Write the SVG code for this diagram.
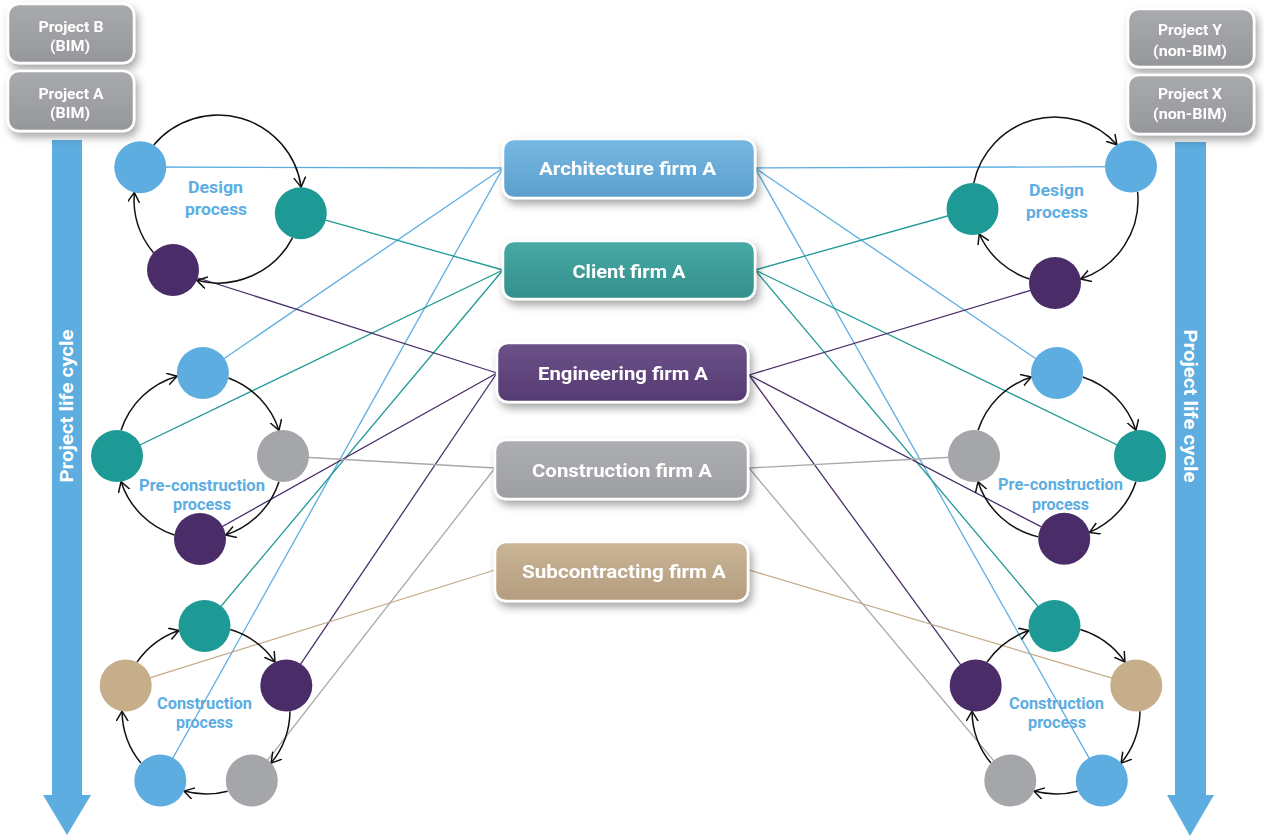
<svg xmlns="http://www.w3.org/2000/svg" width="1264" height="837" viewBox="0 0 1264 837">
<style>
text{font-family:Roboto,"Liberation Sans",sans-serif;font-weight:700;text-anchor:middle}
.bx{fill:#fff;font-size:19px}
.pj{fill:#fff;font-size:14px}
.pl{fill:#5dade2;font-size:16px}
.lc{fill:#fff;font-size:18px}
.box{stroke:#fff;stroke-width:2.5}
.cy{fill:none;stroke:#111;stroke-width:1.5;marker-end:url(#chev)}
.c-lb{fill:#5dade0}.c-tl{fill:#1e9a96}.c-pu{fill:#4a2d68}.c-gy{fill:#a5a6a9}.c-tn{fill:#c6ae8a}
#connectors line{stroke-width:1.3}
.l-lb{stroke:#5dade2}.l-tl{stroke:#1f9a94}.l-pu{stroke:#4b2e6b}.l-gy{stroke:#a8a8ab}.l-tn{stroke:#c4ab88}
</style>
<defs>
<marker id="chev" markerUnits="userSpaceOnUse" markerWidth="14" markerHeight="14" refX="10" refY="6" orient="auto">
<path d="M0,0 L10,6 L0,12" fill="none" stroke="#111" stroke-width="1.5"/>
</marker>
<filter id="sh" x="-20%" y="-30%" width="140%" height="170%">
<feDropShadow dx="3" dy="5" stdDeviation="4" flood-color="#000" flood-opacity="0.35"/>
</filter>
<linearGradient id="gAr" x1="0" y1="0" x2="0" y2="1"><stop offset="0" stop-color="#76b8e2"/><stop offset="1" stop-color="#5c9fcc"/></linearGradient>
<linearGradient id="gCl" x1="0" y1="0" x2="0" y2="1"><stop offset="0" stop-color="#47aaa5"/><stop offset="1" stop-color="#338f8b"/></linearGradient>
<linearGradient id="gEn" x1="0" y1="0" x2="0" y2="1"><stop offset="0" stop-color="#6d5289"/><stop offset="1" stop-color="#553a72"/></linearGradient>
<linearGradient id="gCo" x1="0" y1="0" x2="0" y2="1"><stop offset="0" stop-color="#aeafb2"/><stop offset="1" stop-color="#9d9ea1"/></linearGradient>
<linearGradient id="gSu" x1="0" y1="0" x2="0" y2="1"><stop offset="0" stop-color="#cab596"/><stop offset="1" stop-color="#b39d7e"/></linearGradient>
<linearGradient id="gPj" x1="0" y1="0" x2="0" y2="1"><stop offset="0" stop-color="#a9aaad"/><stop offset="1" stop-color="#96979b"/></linearGradient>
</defs>
<rect width="1264" height="837" fill="#fff"/>

<!-- life cycle arrows -->
<g id="lifecycle-left">
<polygon points="52,140 82,140 82,795 91,795 67,835 43,795 52,795" fill="#5dade0"/>
<text class="lc" transform="translate(73,406) rotate(-90)" textLength="153" lengthAdjust="spacingAndGlyphs">Project life cycle</text>
</g>
<g id="lifecycle-right">
<polygon points="1175,142 1206,142 1206,795 1214,795 1190,836 1167,795 1175,795" fill="#5dade0"/>
<text class="lc" transform="translate(1184,406) rotate(90)" textLength="153" lengthAdjust="spacingAndGlyphs">Project life cycle</text>
</g>

<!-- project boxes -->
<g id="projB" filter="url(#sh)"><rect class="box" x="8" y="4" width="126" height="59" rx="11" fill="url(#gPj)"/>
<text class="pj" x="71" y="32" textLength="65" lengthAdjust="spacingAndGlyphs">Project B</text><text class="pj" x="70" y="51" textLength="40" lengthAdjust="spacingAndGlyphs">(BIM)</text></g>
<g id="projA" filter="url(#sh)"><rect class="box" x="8" y="71" width="126" height="60" rx="11" fill="url(#gPj)"/>
<text class="pj" x="71" y="99" textLength="65" lengthAdjust="spacingAndGlyphs">Project A</text><text class="pj" x="70" y="118" textLength="40" lengthAdjust="spacingAndGlyphs">(BIM)</text></g>
<g id="projY" filter="url(#sh)"><rect class="box" x="1128" y="9" width="126" height="58" rx="11" fill="url(#gPj)"/>
<text class="pj" x="1190" y="35" textLength="64" lengthAdjust="spacingAndGlyphs">Project Y</text><text class="pj" x="1190" y="56" textLength="74" lengthAdjust="spacingAndGlyphs">(non-BIM)</text></g>
<g id="projX" filter="url(#sh)"><rect class="box" x="1128" y="75" width="126" height="59" rx="11" fill="url(#gPj)"/>
<text class="pj" x="1190" y="99" textLength="64" lengthAdjust="spacingAndGlyphs">Project X</text><text class="pj" x="1190" y="119" textLength="74" lengthAdjust="spacingAndGlyphs">(non-BIM)</text></g>

<!-- connectors -->
<g id="connectors">
<line class="l-lb" x1="140.3" y1="167" x2="503" y2="168"/>
<line class="l-lb" x1="202.9" y1="373" x2="503" y2="168"/>
<line class="l-lb" x1="160.3" y1="780.5" x2="503" y2="168"/>
<line class="l-tl" x1="300.8" y1="213.2" x2="503" y2="270"/>
<line class="l-tl" x1="117" y1="456" x2="503" y2="270"/>
<line class="l-tl" x1="204.5" y1="626" x2="503" y2="270"/>
<line class="l-pu" x1="173" y1="270" x2="497" y2="373"/>
<line class="l-pu" x1="200" y1="539" x2="497" y2="373"/>
<line class="l-pu" x1="286.3" y1="685.4" x2="497" y2="373"/>
<line class="l-gy" x1="283" y1="456" x2="495" y2="468"/>
<line class="l-gy" x1="251.8" y1="780.5" x2="495" y2="468"/>
<line class="l-tn" x1="125.7" y1="685.4" x2="495" y2="570"/>
<line class="l-lb" x1="1131" y1="166.6" x2="755" y2="168"/>
<line class="l-lb" x1="1057" y1="373" x2="755" y2="168"/>
<line class="l-lb" x1="1101.8" y1="780.5" x2="755" y2="168"/>
<line class="l-tl" x1="972.5" y1="209" x2="755" y2="270"/>
<line class="l-tl" x1="1140" y1="456" x2="755" y2="270"/>
<line class="l-tl" x1="1054.5" y1="626" x2="755" y2="270"/>
<line class="l-pu" x1="1055" y1="283" x2="749" y2="375"/>
<line class="l-pu" x1="1064.2" y1="538.7" x2="749" y2="375"/>
<line class="l-pu" x1="975.7" y1="685.4" x2="749" y2="375"/>
<line class="l-gy" x1="974" y1="456" x2="749" y2="468"/>
<line class="l-gy" x1="1010.3" y1="780.5" x2="749" y2="468"/>
<line class="l-tn" x1="1136.3" y1="685.4" x2="749" y2="570"/>
</g>

<!-- firm boxes -->
<g id="arch" filter="url(#sh)"><rect class="box" x="503" y="139" width="252" height="59" rx="11" fill="url(#gAr)"/>
<text class="bx" x="627.5" y="175" textLength="177" lengthAdjust="spacingAndGlyphs">Architecture firm A</text></g>
<g id="client" filter="url(#sh)"><rect class="box" x="503" y="241" width="252" height="58" rx="11" fill="url(#gCl)"/>
<text class="bx" x="629" y="278" textLength="113" lengthAdjust="spacingAndGlyphs">Client firm A</text></g>
<g id="eng" filter="url(#sh)"><rect class="box" x="497" y="343" width="251" height="59" rx="11" fill="url(#gEn)"/>
<text class="bx" x="623" y="380" textLength="170" lengthAdjust="spacingAndGlyphs">Engineering firm A</text></g>
<g id="constr" filter="url(#sh)"><rect class="box" x="495" y="440" width="253" height="59" rx="11" fill="url(#gCo)"/>
<text class="bx" x="622" y="477" textLength="180" lengthAdjust="spacingAndGlyphs">Construction firm A</text></g>
<g id="subc" filter="url(#sh)"><rect class="box" x="495" y="542" width="253" height="59" rx="11" fill="url(#gSu)"/>
<text class="bx" x="624" y="578" textLength="204" lengthAdjust="spacingAndGlyphs">Subcontracting firm A</text></g>

<!-- cycle arcs -->
<g id="cycles">
<path class="cy" d="M153.75,144.9 A84,84 0 0 1 301.16,187.16"/>
<path class="cy" d="M292.5,237.8 A84,84 0 0 1 196.8,280.3"/>
<path class="cy" d="M153.5,252.8 A84,84 0 0 1 134.3,192.4"/>
<path class="cy" d="M121.06,430.35 A83,83 0 0 1 177.12,376.21"/>
<path class="cy" d="M228.39,378 A83,83 0 0 1 278.94,430.35"/>
<path class="cy" d="M278.94,481.65 A83,83 0 0 1 225.65,534.94"/>
<path class="cy" d="M174.35,534.94 A83,83 0 0 1 121.06,481.65"/>
<path class="cy" d="M230.28,629.59 A84,84 0 0 1 274.97,662.06"/>
<path class="cy" d="M289.99,711.17 A84,84 0 0 1 271.09,763.09"/>
<path class="cy" d="M227.6,791.18 A84,84 0 0 1 183.98,791.06"/>
<path class="cy" d="M140.91,763.09 A84,84 0 0 1 122.01,711.17"/>
<path class="cy" d="M137.03,662.06 A84,84 0 0 1 178.93,630.49"/>
<path class="cy" d="M973.75,183.03 A83,83 0 0 1 1116.97,144.79"/>
<path class="cy" d="M1137.59,191.76 A83,83 0 0 1 1080.65,278.94"/>
<path class="cy" d="M1029.35,278.94 A83,83 0 0 1 979.3,234.02"/>
<path class="cy" d="M978.06,430.35 A83,83 0 0 1 1031.35,377.06"/>
<path class="cy" d="M1082.65,377.06 A83,83 0 0 1 1135.94,430.35"/>
<path class="cy" d="M1135.94,481.65 A83,83 0 0 1 1089.43,532.4"/>
<path class="cy" d="M1038.33,536.87 A83,83 0 0 1 978.06,481.65"/>
<path class="cy" d="M987.03,662.06 A84,84 0 0 1 1028.93,630.49"/>
<path class="cy" d="M1080.28,629.59 A84,84 0 0 1 1124.97,662.06"/>
<path class="cy" d="M1139.99,711.17 A84,84 0 0 1 1121.09,763.09"/>
<path class="cy" d="M1077.6,791.18 A84,84 0 0 1 1033.98,791.06"/>
<path class="cy" d="M990.91,763.09 A84,84 0 0 1 972.01,711.17"/>
</g>

<!-- left design process -->
<g id="L-design">
<circle id="Ld-arch" class="c-lb" cx="140.3" cy="167.2" r="26"/>
<circle id="Ld-client" class="c-tl" cx="300.8" cy="213.2" r="26"/>
<circle id="Ld-eng" class="c-pu" cx="173" cy="269.9" r="26"/>
<text class="pl" x="215.5" y="193" textLength="55" lengthAdjust="spacingAndGlyphs">Design</text>
<text class="pl" x="216" y="215" textLength="62" lengthAdjust="spacingAndGlyphs">process</text>
</g>
<g id="L-precon">
<circle id="Lp-arch" class="c-lb" cx="202.9" cy="373" r="26"/>
<circle id="Lp-constr" class="c-gy" cx="283" cy="456" r="26"/>
<circle id="Lp-eng" class="c-pu" cx="200" cy="539" r="26"/>
<circle id="Lp-client" class="c-tl" cx="117" cy="456" r="26"/>
<text class="pl" x="202" y="491" textLength="126" lengthAdjust="spacingAndGlyphs">Pre-construction</text>
<text class="pl" x="202" y="510" textLength="58" lengthAdjust="spacingAndGlyphs">process</text>
</g>
<g id="L-constr">
<circle id="Lc-client" class="c-tl" cx="204.5" cy="626" r="26"/>
<circle id="Lc-eng" class="c-pu" cx="286.3" cy="685.4" r="26"/>
<circle id="Lc-constr" class="c-gy" cx="251.8" cy="780.5" r="26"/>
<circle id="Lc-arch" class="c-lb" cx="160.3" cy="780.5" r="26"/>
<circle id="Lc-sub" class="c-tn" cx="125.7" cy="685.4" r="26"/>
<text class="pl" x="204.5" y="709" textLength="95" lengthAdjust="spacingAndGlyphs">Construction</text>
<text class="pl" x="204.5" y="728" textLength="57" lengthAdjust="spacingAndGlyphs">process</text>
</g>

<!-- right side -->
<g id="R-design">
<circle id="Rd-arch" class="c-lb" cx="1131" cy="166.6" r="26"/>
<circle id="Rd-client" class="c-tl" cx="972.5" cy="209" r="26"/>
<circle id="Rd-eng" class="c-pu" cx="1055" cy="283" r="26"/>
<text class="pl" x="1056.5" y="196" textLength="55" lengthAdjust="spacingAndGlyphs">Design</text>
<text class="pl" x="1057" y="218" textLength="62" lengthAdjust="spacingAndGlyphs">process</text>
</g>
<g id="R-precon">
<circle id="Rp-arch" class="c-lb" cx="1057" cy="373" r="26"/>
<circle id="Rp-client" class="c-tl" cx="1140" cy="456" r="26"/>
<circle id="Rp-eng" class="c-pu" cx="1064.2" cy="538.7" r="26"/>
<circle id="Rp-constr" class="c-gy" cx="974" cy="456" r="26"/>
<text class="pl" x="1060.5" y="490" textLength="125" lengthAdjust="spacingAndGlyphs">Pre-construction</text>
<text class="pl" x="1060.5" y="510" textLength="57" lengthAdjust="spacingAndGlyphs">process</text>
</g>
<g id="R-constr">
<circle id="Rc-client" class="c-tl" cx="1054.5" cy="626" r="26"/>
<circle id="Rc-sub" class="c-tn" cx="1136.3" cy="685.4" r="26"/>
<circle id="Rc-arch" class="c-lb" cx="1101.8" cy="780.5" r="26"/>
<circle id="Rc-constr" class="c-gy" cx="1010.3" cy="780.5" r="26"/>
<circle id="Rc-eng" class="c-pu" cx="975.7" cy="685.4" r="26"/>
<text class="pl" x="1056.5" y="709" textLength="95" lengthAdjust="spacingAndGlyphs">Construction</text>
<text class="pl" x="1057" y="728" textLength="58" lengthAdjust="spacingAndGlyphs">process</text>
</g>
</svg>
